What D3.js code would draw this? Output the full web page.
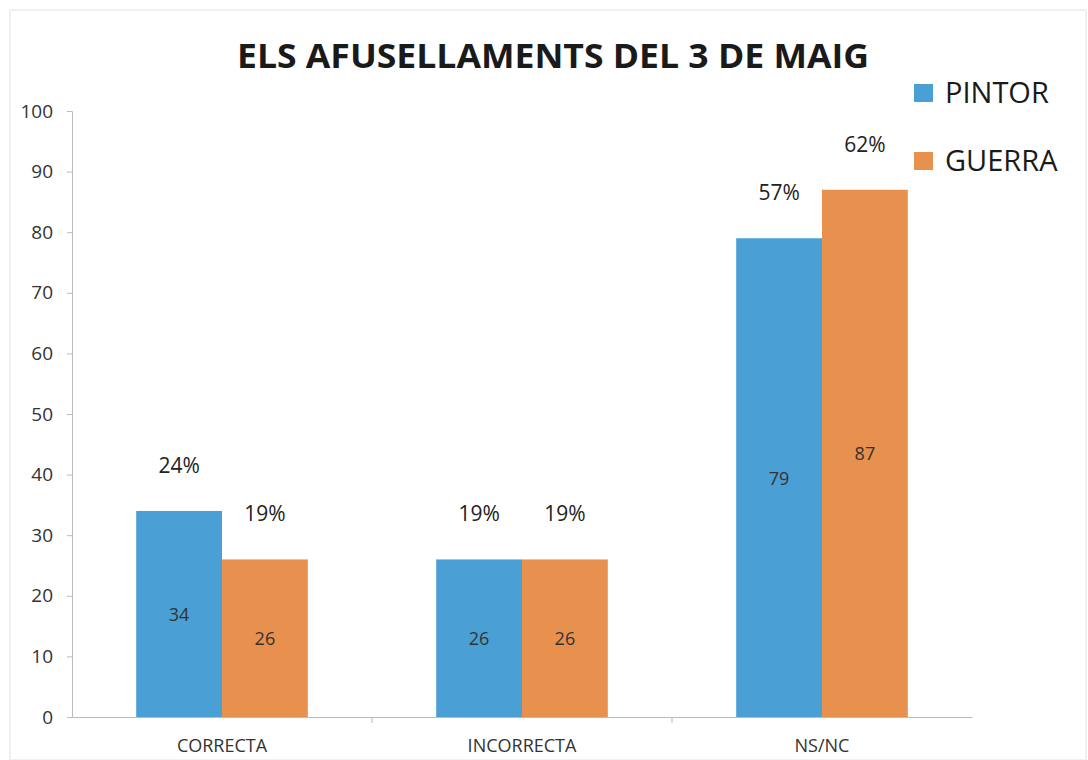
<!DOCTYPE html>
<html><head><meta charset="utf-8">
<script src="https://cdn.jsdelivr.net/npm/d3@7"></script>
<style>body{margin:0;background:#fff}svg{display:block}</style>
</head><body>
<script>
const categories = ["CORRECTA", "INCORRECTA", "NS/NC"];
const seriesNames = ["PINTOR", "GUERRA"];
const pintor = [34, 26, 79];
const guerra = [26, 26, 87];
const pintorPct = ["24%", "19%", "57%"];
const guerraPct = ["19%", "19%", "62%"];
const yTicks = [0, 10, 20, 30, 40, 50, 60, 70, 80, 90, 100];
const colors = ["#4a9fd4", "#e8904e"];

(function () {
const W = 1088, H = 760;
const svg = d3.select("body").append("svg").attr("width", W).attr("height", H);
svg.append("rect").attr("x", 10).attr("y", 10).attr("width", W - 12).attr("height", H - 10)
  .attr("fill", "#fff").attr("stroke", "#e2e2e2");

const pLeft = 72, pRight = 972, pTop = 111, pBottom = 717;
const y = d3.scaleLinear().domain([0, 100]).range([pBottom, pTop]);
const x0 = d3.scaleBand().domain(categories).range([pLeft, pRight]).paddingInner(0.428).paddingOuter(0.214);
const x1 = d3.scaleBand().domain(seriesNames).range([0, x0.bandwidth()]);

// title
svg.append("text").attr("x", 553).attr("y", 68).attr("text-anchor", "middle")
  .attr("font-family", "'Open Sans', sans-serif").attr("font-weight", "bold")
  .attr("font-size", 34).attr("fill", "#1a1a1a")
  .attr("textLength", 632).attr("lengthAdjust", "spacingAndGlyphs")
  .text("ELS AFUSELLAMENTS DEL 3 DE MAIG");

// y axis
const yAxis = svg.append("g").attr("transform", `translate(${pLeft},0)`)
  .call(d3.axisLeft(y).tickValues(yTicks).tickSize(5).tickPadding(14));
yAxis.select(".domain").attr("stroke", "#bbb");
yAxis.selectAll(".tick line").attr("stroke", "#bbb");
yAxis.selectAll(".tick text").attr("font-family", "'Open Sans', sans-serif").attr("font-size", 19).attr("fill", "#333");

// x axis
const xAxis = svg.append("g").attr("transform", `translate(0,${pBottom})`)
  .call(d3.axisBottom(x0).tickSize(0).tickPadding(22));
xAxis.select(".domain").attr("stroke", "#bbb");
xAxis.selectAll(".tick text").attr("font-family", "'Open Sans', sans-serif").attr("font-size", 18).attr("fill", "#333");
[1, 2].forEach(i => {
  const xx = pLeft + (pRight - pLeft) * i / 3;
  svg.append("line").attr("x1", xx).attr("x2", xx).attr("y1", pBottom).attr("y2", pBottom + 6).attr("stroke", "#bbb");
});

const data = [pintor, guerra];
const pcts = [pintorPct, guerraPct];
seriesNames.forEach((s, si) => {
  const g = svg.append("g");
  categories.forEach((c, ci) => {
    const v = data[si][ci];
    const bx = x0(c) + x1(s);
    const bw = x1.bandwidth();
    g.append("rect").attr("x", bx).attr("y", y(v)).attr("width", bw).attr("height", y(0) - y(v)).attr("fill", colors[si]);
    g.append("text").attr("x", bx + bw / 2).attr("y", (y(v) + y(0)) / 2 + 7).attr("text-anchor", "middle")
      .attr("font-family", "'Open Sans', sans-serif").attr("font-size", 18).attr("fill", "#333").text(v);
    g.append("text").attr("x", bx + bw / 2).attr("y", y(v) - 38).attr("text-anchor", "middle")
      .attr("font-family", "'Open Sans', sans-serif").attr("font-size", 21).attr("fill", "#222").text(pcts[si][ci]);
  });
});

// legend
seriesNames.forEach((s, i) => {
  const ly = 93 + i * 68;
  svg.append("rect").attr("x", 914).attr("y", ly - 9).attr("width", 19).attr("height", 18).attr("fill", colors[i]);
  svg.append("text").attr("x", 945).attr("y", ly + 10).attr("font-family", "'Open Sans', sans-serif")
    .attr("font-size", 29).attr("fill", "#1a1a1a").text(s);
});
})();
</script>
</body></html>
